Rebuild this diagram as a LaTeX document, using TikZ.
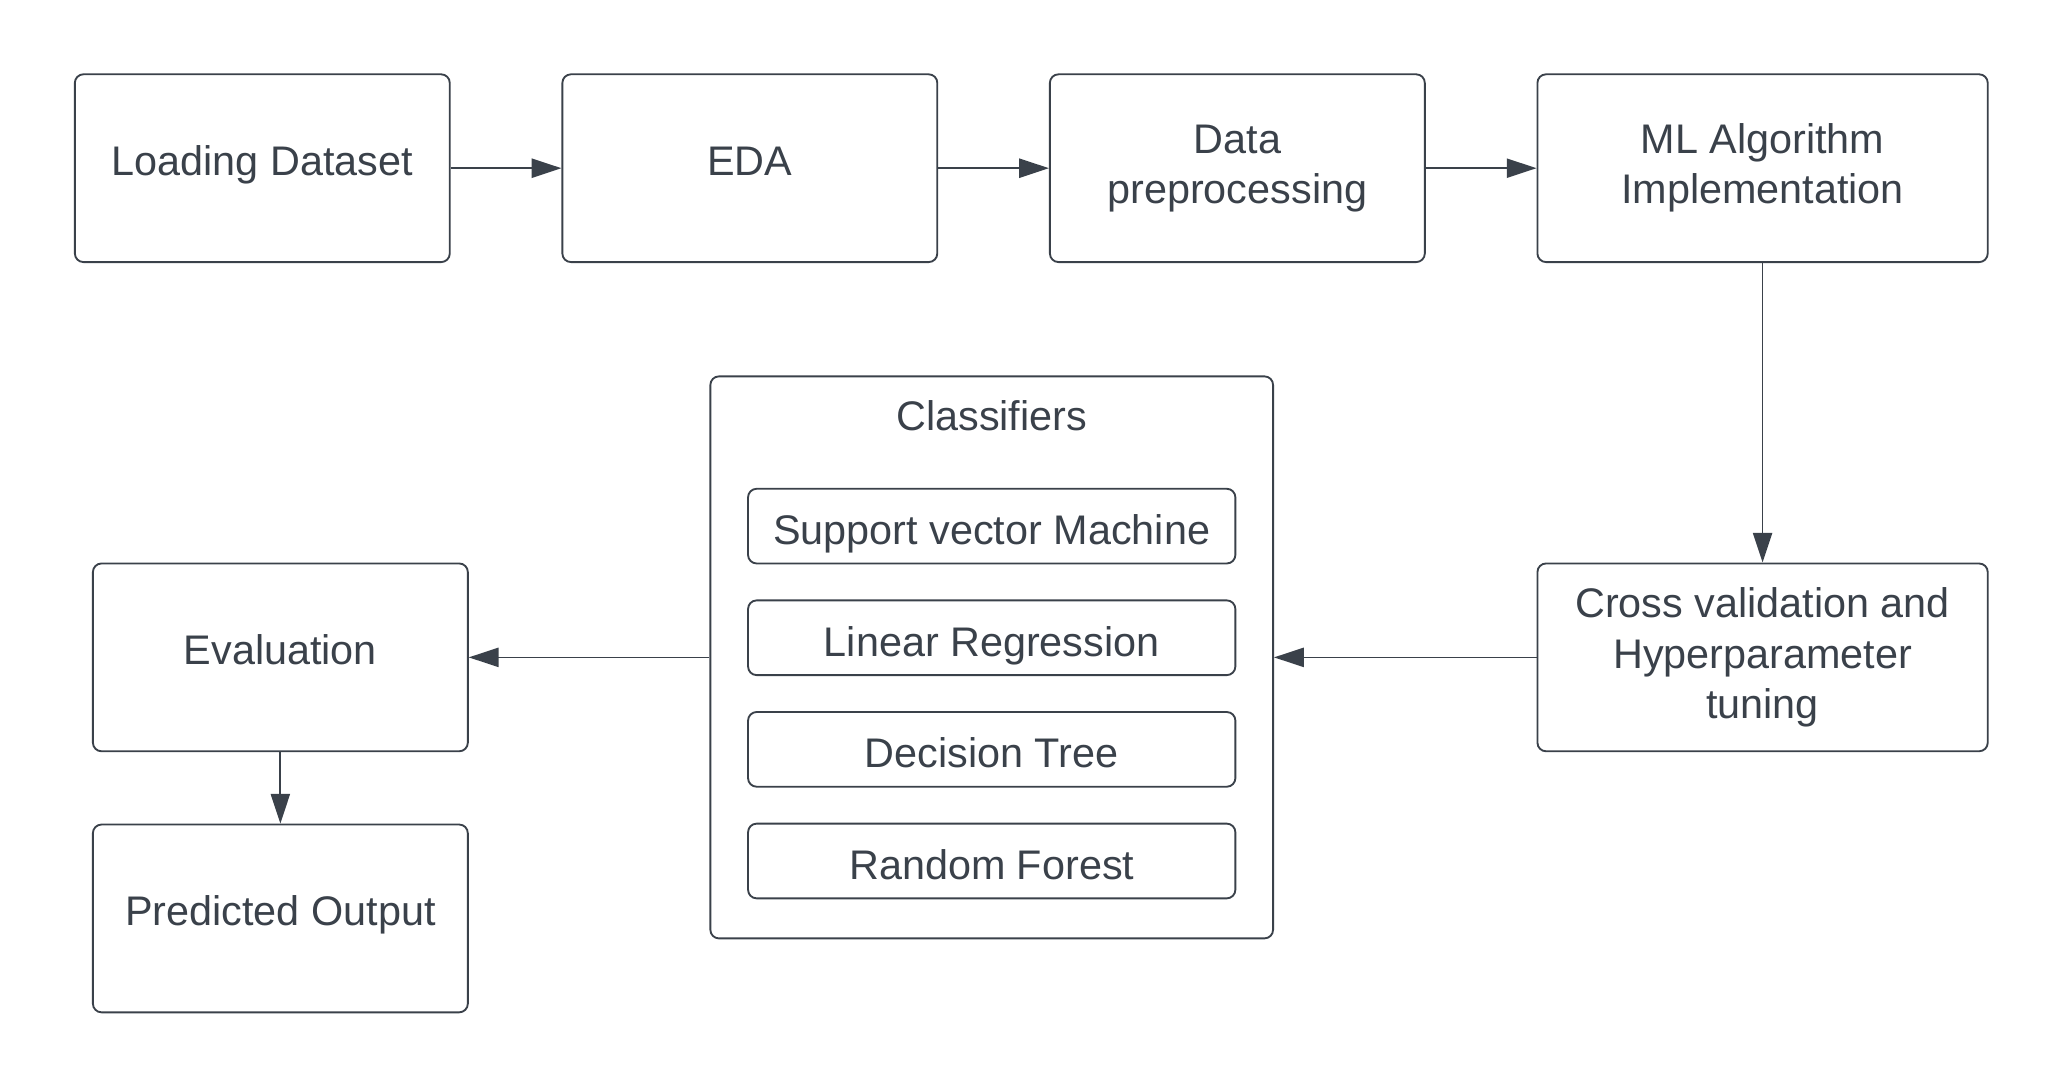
\documentclass[tikz,border=0pt]{standalone}
\usepackage{fontspec}
\setmainfont{Liberation Sans}
\usepackage{tikz}
\usetikzlibrary{positioning, arrows.meta}
\definecolor{ink}{HTML}{3A414A}
\tikzset{
  stage/.style={draw=ink, text=ink, rectangle, rounded corners=0.13cm, line width=0.8pt,
    minimum width=5.67cm, minimum height=2.84cm, align=center,
    font=\fontsize{17.8pt}{21.6pt}\selectfont},
  oneline/.style={text height=13.4pt, text depth=7.1pt},
  widestage/.style={stage, minimum width=6.81cm},
  model/.style={draw=ink, text=ink, rectangle, rounded corners=0.13cm, line width=0.8pt,
    minimum width=7.37cm, minimum height=1.13cm, inner sep=0pt,
    text height=16.9pt, text depth=0.9pt,
    font=\fontsize{17.8pt}{21.6pt}\selectfont},
  heading/.style={text=ink, inner sep=0pt, font=\fontsize{17.8pt}{21.6pt}\selectfont},
  flow/.style={draw=ink, line width=0.75pt, -{Triangle[length=0.45cm, width=0.29cm]}}
}

\begin{document}
\begin{tikzpicture}
    \useasboundingbox (0,0) rectangle (31.2,16.454);
    \node[stage, oneline] at (3.967,13.91)
      (LD) {Loading Dataset};
    \node[stage, oneline, right=1.675cm of LD]
      (EDA) {EDA};
    \node[stage, right=1.675cm of EDA]
      (DP) {Data\\preprocessing};
    \node[widestage, right=1.675cm of DP]
      (ML) {ML Algorithm\\Implementation};
    \node[widestage, below=4.53cm of ML]
      (CV) {Cross validation and\\Hyperparameter\\tuning};
    \node[draw=ink, rectangle, rounded corners=0.13cm, line width=0.8pt,
      minimum width=8.51cm, minimum height=8.5cm, left=3.97cm of CV]
      (CL) {};
    \node[heading, below=0.38cm] at (CL.north)
      (CLT) {Classifiers};
    \node[model, below=1.7cm of CL.north]
      (SVM) {Support vector Machine};
    \node[model, below=0.53cm of SVM]
      (LR) {Linear Regression};
    \node[model, below=0.53cm of LR]
      (DT) {Decision Tree};
    \node[model, below=0.53cm of DT]
      (RF) {Random Forest};
    \node[stage, oneline, left=3.64cm of CL]
      (EV) {Evaluation};
    \node[stage, oneline, below=1.08cm of EV]
      (PO) {Predicted Output};
    \draw[flow] (LD) -- (EDA);
    \draw[flow] (EDA) -- (DP);
    \draw[flow] (DP) -- (ML);
    \draw[flow] (ML) -- (CV);
    \draw[flow] (CV) -- (CL);
    \draw[flow] (CL) -- (EV);
    \draw[flow] (EV) -- (PO);
  \end{tikzpicture}
\end{document}
